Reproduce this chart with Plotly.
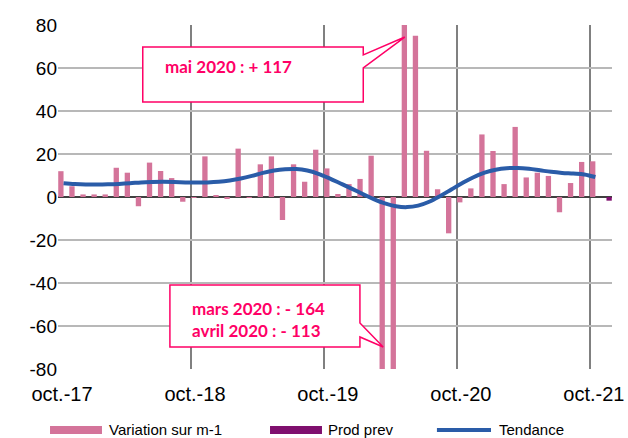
import plotly.graph_objects as go

months_fr = ["janv.", "févr.", "mars", "avr.", "mai", "juin", "juil.", "août", "sept.", "oct.", "nov.", "déc."]
# categories: oct-17 .. nov-21 (50 months)
categories = []
m, y = 9, 2017
for _ in range(50):
    categories.append(f"{months_fr[m]}-{str(y)[2:]}")
    m += 1
    if m == 12:
        m, y = 0, y + 1

variation = [12, 5, 1.2, 1.2, 1.2, 13.6, 11.3, -4.3, 16, 12.1, 8.8, -2.2,
             -0.3, 18.9, 0.9, -0.6, 22.5, -0.3, 15.2, 18.9, -10.7, 15.2, 7.1, 22,
             13.3, 1.4, 6, 8.4, 19.2, -164, -113, 117, 75, 21.5, 3.6, -16.9,
             -2.5, 4.0, 29.1, 21.4, 6.0, 32.6, 9.1, 11.3, 9.8, -7.1, 6.5, 16.3,
             16.6, None]
prod_prev = [None] * 49 + [-1.7]
tendance = [6.4, 6.0, 5.8, 5.8, 5.9, 6.1, 6.4, 6.8, 7.0, 7.1, 7.0, 6.8,
            6.7, 6.8, 7.1, 7.7, 8.6, 9.8, 11.2, 12.3, 12.9, 13.0, 12.3, 10.8,
            8.7, 6.3, 3.9, 1.4, -1.0, -3.0, -4.3, -4.7, -4.0, -2.2, 0.5, 3.5,
            6.5, 9.2, 11.3, 12.7, 13.4, 13.5, 13.1, 12.4, 11.7, 11.2, 10.9, 10.5,
            9.3, None]

tick_labels = ["oct.-17", "oct.-18", "oct.-19", "oct.-20", "oct.-21"]
y_ticks = [80, 60, 40, 20, 0, -20, -40, -60, -80]
y_tick_labels = ["80", "60", "40", "20", "0", "-20", "-40", "-60", "-80"]
series_names = ["Variation sur m-1", "Prod prev", "Tendance"]
colors = ["#D4749A", "#7F0F6E", "#2A5CA8"]

x = list(range(len(categories)))

fig = go.Figure()
fig.add_trace(go.Bar(x=x, y=variation, name=series_names[0],
                     marker_color=colors[0], marker_line_width=0))
fig.add_trace(go.Bar(x=x, y=prod_prev, name=series_names[1],
                     marker_color=colors[1], marker_line_width=0))
fig.add_trace(go.Scatter(x=x, y=tendance, name=series_names[2], mode="lines",
                         line=dict(color=colors[2], width=4, shape="spline")))

tickvals = [i - 0.5 for i in range(0, 49, 12)]

fig.update_layout(
    width=628, height=438,
    margin=dict(l=58, r=16, t=25, b=69, autoexpand=False),
    paper_bgcolor="white", plot_bgcolor="white",
    barmode="group", bargap=0.04, bargroupgap=0.0,
    font=dict(family="Liberation Sans, Arial, sans-serif", color="black"),
    showlegend=False,
)
fig.update_xaxes(range=[-0.5, 49.5], tickmode="array", tickvals=tickvals,
                 ticktext=tick_labels, showgrid=True, gridcolor="#808080",
                 gridwidth=2, tickfont=dict(size=20), ticks="", zeroline=False,
                 showline=False, automargin=False, ticklabelstandoff=11,
                 ticklabelshift=4)
fig.update_yaxes(range=[-80, 80], tickmode="array", tickvals=y_ticks,
                 ticktext=y_tick_labels,
                 showgrid=True, gridcolor="#B8B8B8", gridwidth=2,
                 tickfont=dict(size=19), zeroline=True, zerolinecolor="#404040",
                 zerolinewidth=1.5, showline=False, ticks="", automargin=False)

pink = "#FF0066"

def callout(x0, x1, yb, yt, wy1, wy2, tx, ty):
    return (f"M {x0} {yt} L {x1} {yt} L {x1} {wy1} L {tx} {ty} L {x1} {wy2} "
            f"L {x1} {yb} L {x0} {yb} Z")

fig.add_shape(type="path", xref="paper", yref="paper",
              path=callout(0.153, 0.551, 0.776, 0.936, 0.913, 0.875, 0.626, 0.965),
              line=dict(color=pink, width=1.5), fillcolor="white")
fig.add_shape(type="path", xref="paper", yref="paper",
              path=callout(0.202, 0.545, 0.064, 0.244, 0.134, 0.093, 0.587, 0.064),
              line=dict(color=pink, width=1.5), fillcolor="white")

ann_font = dict(size=17, color=pink, family="Lato, Open Sans, sans-serif")
fig.add_annotation(xref="paper", yref="paper", x=0.1895, y=0.88, xanchor="left",
                   yanchor="middle", showarrow=False,
                   text="<b>mai 2020 : + 117</b>", font=ann_font)
fig.add_annotation(xref="paper", yref="paper", x=0.238, y=0.1453, xanchor="left",
                   yanchor="middle", showarrow=False, align="left",
                   text="<b>mars 2020 : - 164</b><br><b>avril 2020 : - 113</b>",
                   font=ann_font)

# custom legend (wide swatches as in the reference)
leg_y = -0.1773
leg_font = dict(size=15, color="black", family="Liberation Sans, Arial, sans-serif")
fig.add_shape(type="rect", xref="paper", yref="paper", x0=-0.0144, x1=0.0794,
              y0=-0.1657, y1=-0.1890, fillcolor=colors[0], line_width=0)
fig.add_shape(type="rect", xref="paper", yref="paper", x0=0.3827, x1=0.4765,
              y0=-0.1657, y1=-0.1890, fillcolor=colors[1], line_width=0)
fig.add_shape(type="line", xref="paper", yref="paper", x0=0.684, x1=0.7816,
              y0=leg_y, y1=leg_y, line=dict(color=colors[2], width=4))
for xp, name in zip([0.0884, 0.4838, 0.7924], series_names):
    fig.add_annotation(xref="paper", yref="paper", x=xp, y=leg_y, xanchor="left",
                       yanchor="middle", showarrow=False, text=name, font=leg_font)

fig.write_html("out.html", config={"displayModeBar": False},
               post_script="document.body.style.margin='0';document.body.style.overflow='hidden';")
